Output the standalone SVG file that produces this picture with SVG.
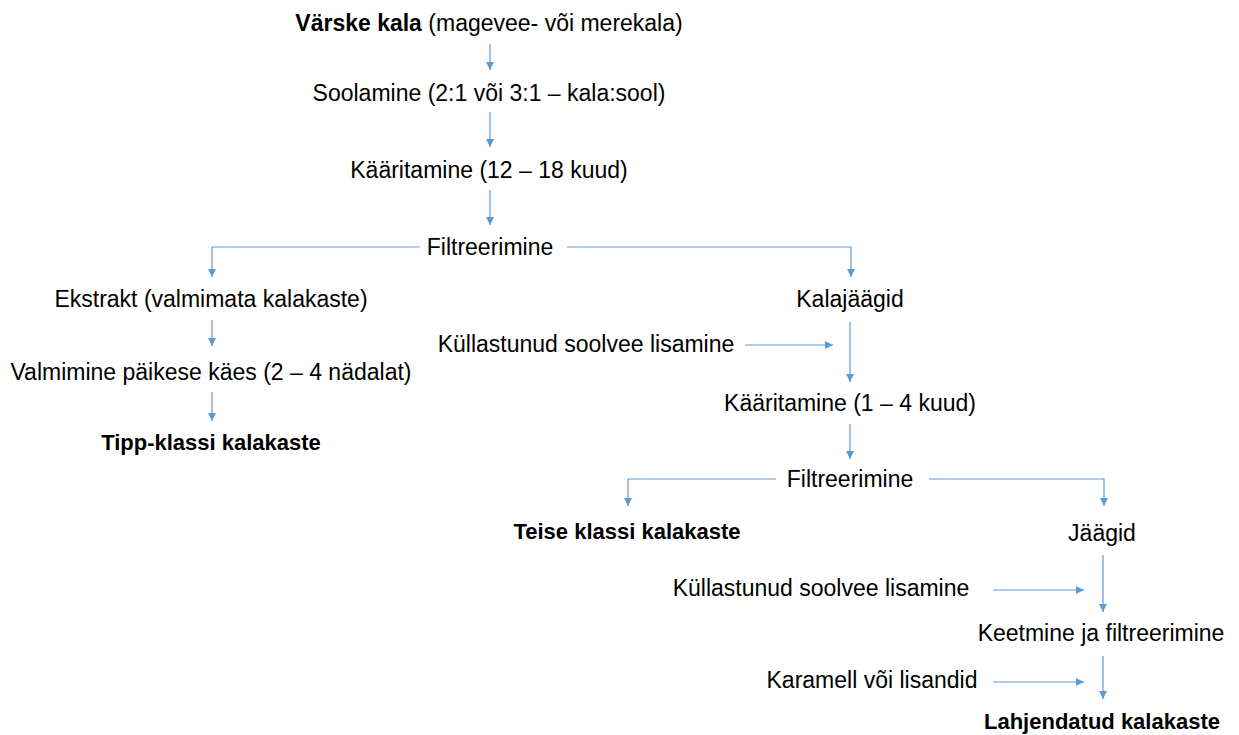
<svg xmlns="http://www.w3.org/2000/svg" width="1239" height="735" viewBox="0 0 1239 735">
<defs>
<style>
text{font-family:"Liberation Sans",Arial,sans-serif;font-size:23px;fill:#000;text-anchor:middle}
.b{font-weight:bold;font-size:22px}
.l{text-anchor:start}
.c{fill:none;stroke:#5B9BD5;stroke-width:1.2}
</style>
<marker id="ah" markerUnits="userSpaceOnUse" markerWidth="9" markerHeight="9" refX="8" refY="4" orient="auto">
<path d="M0,0 L8,4 L0,8 z" fill="#5B9BD5"/>
</marker>
</defs>
<rect width="1239" height="735" fill="#fff"/>
<g id="connectors">
<path class="c" d="M490,44 V70" marker-end="url(#ah)"/>
<path class="c" d="M490,112 V147" marker-end="url(#ah)"/>
<path class="c" d="M490,190 V225" marker-end="url(#ah)"/>
<path class="c" d="M420,247 H212 V277" marker-end="url(#ah)"/>
<path class="c" d="M567,247 H851 V277" marker-end="url(#ah)"/>
<path class="c" d="M212,320 V346" marker-end="url(#ah)"/>
<path class="c" d="M212,392 V421" marker-end="url(#ah)"/>
<path class="c" d="M745,345 H833" marker-end="url(#ah)"/>
<path class="c" d="M850,322 V382" marker-end="url(#ah)"/>
<path class="c" d="M850,424 V459" marker-end="url(#ah)"/>
<path class="c" d="M776,479 H628 V506" marker-end="url(#ah)"/>
<path class="c" d="M929,479 H1104 V506" marker-end="url(#ah)"/>
<path class="c" d="M1103,555 V612" marker-end="url(#ah)"/>
<path class="c" d="M993,590 H1084" marker-end="url(#ah)"/>
<path class="c" d="M1103,656 V699" marker-end="url(#ah)"/>
<path class="c" d="M993,682 H1084" marker-end="url(#ah)"/>
</g>
<g id="n1"><text x="489" y="31"><tspan font-weight="bold">Värske kala</tspan> (magevee- või merekala)</text></g>
<g id="n2"><text x="489" y="101">Soolamine (2:1 või 3:1 – kala:sool)</text></g>
<g id="n3"><text x="489" y="178">Kääritamine (12 – 18 kuud)</text></g>
<g id="n4"><text x="490" y="255">Filtreerimine</text></g>
<g id="n5"><text x="211" y="307">Ekstrakt (valmimata kalakaste)</text></g>
<g id="n6"><text x="211" y="380">Valmimine päikese käes (2 – 4 nädalat)</text></g>
<g id="n7"><text class="b" x="211" y="450">Tipp-klassi kalakaste</text></g>
<g id="n8"><text x="850" y="307">Kalajäägid</text></g>
<g id="n9"><text x="586" y="352">Küllastunud soolvee lisamine</text></g>
<g id="n10"><text x="850" y="411">Kääritamine (1 – 4 kuud)</text></g>
<g id="n11"><text x="850" y="487">Filtreerimine</text></g>
<g id="n12"><text class="b" x="627" y="539">Teise klassi kalakaste</text></g>
<g id="n13"><text x="1102" y="541">Jäägid</text></g>
<g id="n14"><text x="821" y="596">Küllastunud soolvee lisamine</text></g>
<g id="n15"><text x="1101" y="641">Keetmine ja filtreerimine</text></g>
<g id="n16"><text x="872" y="688">Karamell või lisandid</text></g>
<g id="n17"><text class="b" x="1102" y="729">Lahjendatud kalakaste</text></g>
</svg>
